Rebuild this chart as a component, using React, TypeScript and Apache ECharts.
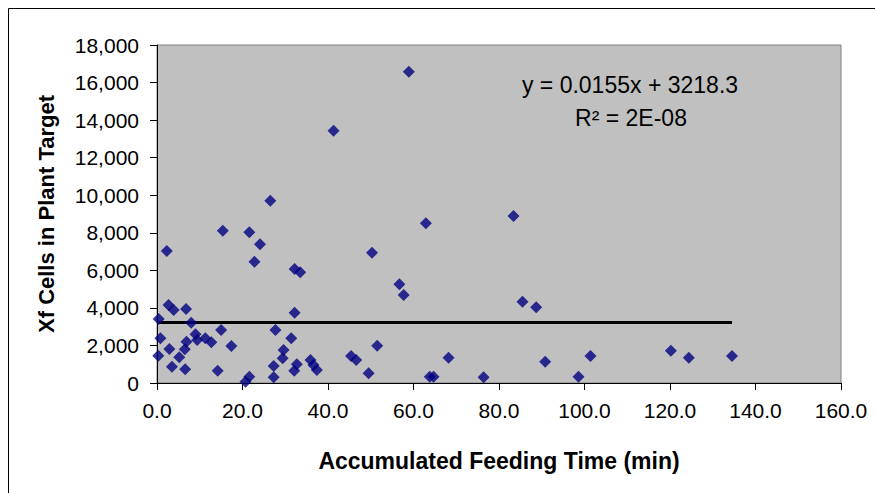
import React, { useEffect, useRef } from "react";
import * as echarts from "echarts";

const feedingTime: number[] = [
  26.5, 15.4, 21.6, 24.1, 2.3, 22.8, 32.2, 33.5, 2.7, 3.9, 6.8, 32.2, 0.4, 8.0,
  15.0, 27.7, 0.8, 9.0, 9.4, 6.9, 11.3, 12.7, 17.4, 31.4, 2.9, 6.5, 29.6, 0.3,
  5.2, 29.4, 3.5, 6.6, 14.2, 27.3, 27.3, 20.7, 21.6, 32.7, 32.1, 35.9, 36.6,
  37.4, 41.3, 58.9, 62.9, 83.4, 50.3, 56.7, 57.7, 85.5, 88.7, 45.4, 46.6, 51.5,
  49.5, 68.2, 63.8, 64.7, 76.4, 90.8, 98.6, 101.4, 120.2, 124.4, 134.5,
];
const xfCells: number[] = [
  9708, 8110, 8024, 7386, 7029, 6459, 6070, 5895, 4153, 3887, 3940, 3744, 3408,
  3211, 2822, 2822, 2380, 2593, 2290, 2200, 2380, 2167, 1970, 2380, 1810, 1795,
  1757, 1454, 1368, 1315, 868, 729, 655, 905, 303, 60, 335, 995, 655, 1225, 958,
  692, 13435, 16577, 8504, 8893, 6939, 5255, 4686, 4329, 4030, 1438, 1225, 1988,
  516, 1348, 335, 335, 303, 1136, 335, 1438, 1720, 1348, 1438,
];
const trendX: number[] = [0.3, 134.5];
const trendY: number[] = [3223.0, 3220.4];
const equationText = "y = 0.0155x + 3218.3";
const r2Text = "R\u00B2 = 2E-08";
const xTitle = "Accumulated Feeding Time (min)";
const yTitle = "Xf Cells in Plant Target";

const FONT = "'Liberation Sans', Arial, sans-serif";

export default function App() {
  const ref = useRef<HTMLDivElement>(null);
  useEffect(() => {
    if (!ref.current) return;
    const chart = echarts.init(ref.current, null, { renderer: "svg" });
    const points = feedingTime.map((x, i) => [x, xfCells[i]]);
    const trend = trendX.map((x, i) => [x, trendY[i]]);
    chart.setOption({
      animation: false,
      backgroundColor: "#ffffff",
      grid: {
        left: 157,
        top: 45,
        right: 34,
        bottom: 110,
        show: true,
        backgroundColor: "#C0C0C0",
        borderColor: "#808080",
        borderWidth: 1,
      },
      xAxis: {
        type: "value",
        min: 0,
        max: 160,
        interval: 20,
        name: xTitle,
        nameLocation: "middle",
        nameGap: 66,
        nameTextStyle: { fontFamily: FONT, fontSize: 23, fontWeight: "bold", color: "#000" },
        axisLine: { show: true, onZero: false, lineStyle: { color: "#000", width: 1 } },
        axisTick: { show: true, inside: false, length: 7, lineStyle: { color: "#000" } },
        axisLabel: {
          fontFamily: FONT,
          fontSize: 21,
          color: "#000",
          margin: 17,
          formatter: (v: number) => v.toFixed(1),
        },
        splitLine: { show: false },
      },
      yAxis: {
        type: "value",
        min: 0,
        max: 18000,
        interval: 2000,
        name: yTitle,
        nameLocation: "middle",
        nameGap: 100,
        nameRotate: 90,
        nameTextStyle: { fontFamily: FONT, fontSize: 22, fontWeight: "bold", color: "#000" },
        axisLine: { show: true, onZero: false, lineStyle: { color: "#000", width: 1 } },
        axisTick: { show: true, inside: false, length: 7, lineStyle: { color: "#000" } },
        axisLabel: {
          fontFamily: FONT,
          fontSize: 21,
          color: "#000",
          margin: 18,
          formatter: (v: number) => v.toLocaleString("en-US"),
        },
        splitLine: { show: false },
      },
      series: [
        {
          type: "line",
          data: trend,
          symbol: "none",
          lineStyle: { color: "#000", width: 3 },
          z: 3,
        },
        {
          type: "scatter",
          data: points,
          symbol: "diamond",
          symbolSize: 12,
          itemStyle: { color: "#000080" },
          z: 4,
        },
      ],
      graphic: [
        {
          type: "rect",
          shape: { x: 8.5, y: 8.5, width: 900, height: 520 },
          style: { fill: "none", stroke: "#000", lineWidth: 1 },
          silent: true,
          z: 100,
        },
        {
          type: "text",
          x: 630,
          y: 85,
          style: {
            text: equationText,
            fontFamily: FONT,
            fontSize: 23,
            fill: "#000",
            align: "center",
            verticalAlign: "middle",
          },
          z: 100,
        },
        {
          type: "text",
          x: 631,
          y: 118,
          style: {
            text: r2Text,
            fontFamily: FONT,
            fontSize: 23,
            fill: "#000",
            align: "center",
            verticalAlign: "middle",
          },
          z: 100,
        },
      ],
    });
    return () => chart.dispose();
  }, []);
  return (
    <div
      ref={ref}
      style={{ position: "fixed", left: 0, top: 0, width: 875, height: 493 }}
    />
  );
}
